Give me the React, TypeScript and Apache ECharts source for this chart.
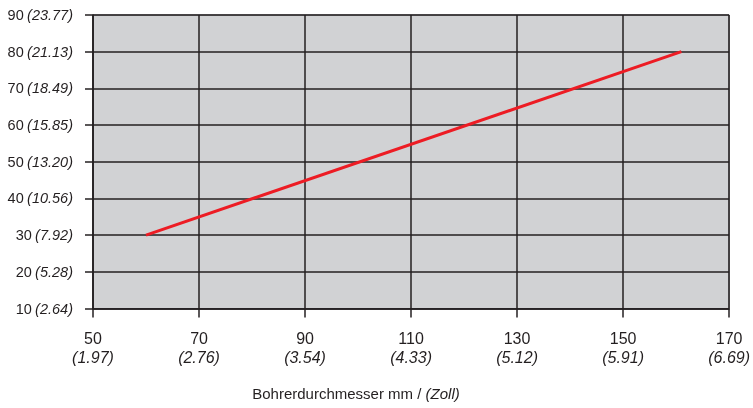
import React, { useEffect, useRef } from "react";
import * as echarts from "echarts";

const xTicksMm = [50, 70, 90, 110, 130, 150, 170];
const xTicksInch = ["1.97", "2.76", "3.54", "4.33", "5.12", "5.91", "6.69"];
const yTicks = [10, 20, 30, 40, 50, 60, 70, 80, 90];
const yTicksAlt = ["2.64", "5.28", "7.92", "10.56", "13.20", "15.85", "18.49", "21.13", "23.77"];
const lineX = [60, 161];
const lineY = [30, 80];
const axisTitle = "Bohrerdurchmesser mm / ";
const axisTitleUnit = "(Zoll)";

const FONT = "'Liberation Sans', Arial, sans-serif";
const INK = "#231f20";

export default function App() {
  const ref = useRef<HTMLDivElement>(null);
  useEffect(() => {
    if (!ref.current) return;
    const chart = echarts.init(ref.current, undefined, { renderer: "svg" });
    chart.setOption({
      animation: false,
      grid: {
        left: 93,
        right: 19.5,
        top: 15,
        bottom: 99.5,
        show: true,
        backgroundColor: "#d1d2d4",
        borderColor: "#6d6e70",
        borderWidth: 1,
      },
      graphic: [
        {
          type: "text",
          x: 356,
          y: 393,
          style: {
            text: `${axisTitle}{i|${axisTitleUnit}}`,
            fill: INK,
            font: `15px ${FONT}`,
            align: "center",
            verticalAlign: "middle",
            rich: { i: { fontStyle: "italic", fontSize: 15, fontFamily: FONT, fill: INK } },
          },
        },
      ],
      xAxis: {
        type: "value",
        min: 50,
        max: 170,
        interval: 20,
        axisLine: { show: true, lineStyle: { color: INK, width: 1.5 } },
        axisTick: { show: true, length: 9, lineStyle: { color: INK, width: 1.5 } },
        splitLine: { show: true, lineStyle: { color: INK, width: 1.5 } },
        axisLabel: {
          margin: 20,
          formatter: (v: number) => {
            const i = xTicksMm.indexOf(v);
            return `{n|${v}}\n{i|(${i >= 0 ? xTicksInch[i] : ""})}`;
          },
          rich: {
            n: { fontSize: 16, fontFamily: FONT, color: INK, lineHeight: 19 },
            i: { fontSize: 16, fontFamily: FONT, color: INK, fontStyle: "italic", lineHeight: 19 },
          },
        },
      },
      yAxis: {
        type: "value",
        min: 10,
        max: 90,
        interval: 10,
        axisLine: { show: true, lineStyle: { color: INK, width: 1.5 } },
        axisTick: { show: true, length: 8, lineStyle: { color: INK, width: 1.5 } },
        splitLine: { show: true, lineStyle: { color: INK, width: 1.5 } },
        axisLabel: {
          margin: 20,
          formatter: (v: number) => {
            const i = yTicks.indexOf(v);
            return `{n|${v}} {i|(${i >= 0 ? yTicksAlt[i] : ""})}`;
          },
          rich: {
            n: { fontSize: 14.5, fontFamily: FONT, color: INK },
            i: { fontSize: 14.5, fontFamily: FONT, color: INK, fontStyle: "italic" },
          },
        },
      },
      series: [
        {
          type: "line",
          data: lineX.map((x, k) => [x, lineY[k]]),
          symbol: "none",
          lineStyle: { color: "#ed1c24", width: 3 },
        },
      ],
    });
    return () => chart.dispose();
  }, []);
  return (
    <div
      ref={ref}
      style={{ position: "fixed", left: 0, top: 0, width: 753, height: 408 }}
    />
  );
}
